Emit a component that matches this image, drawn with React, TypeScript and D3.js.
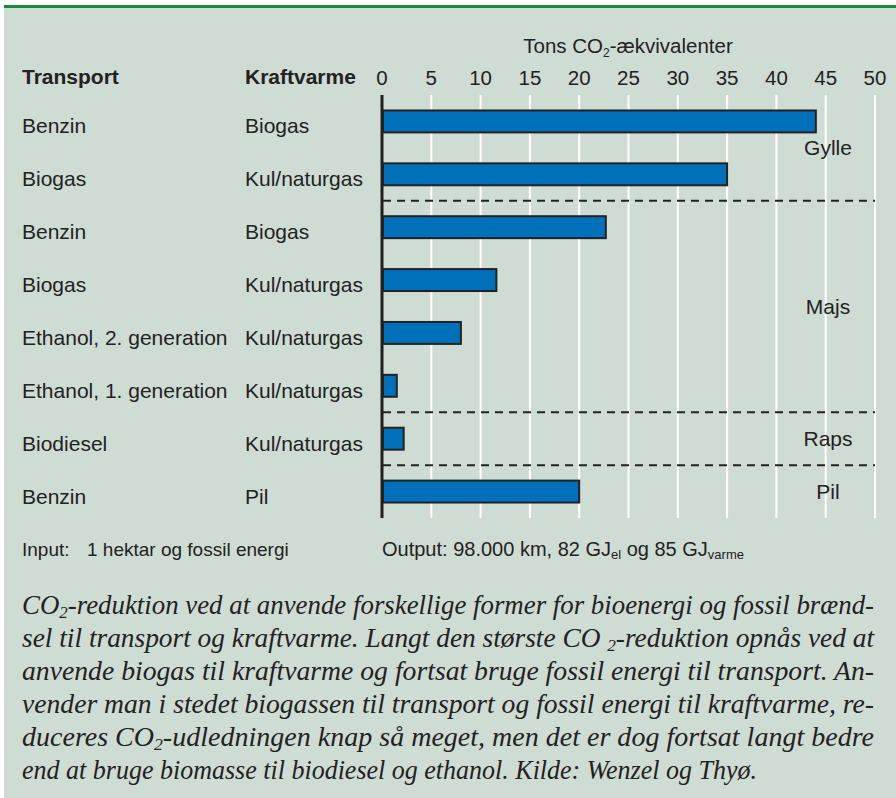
import React from 'react';
import * as d3 from 'd3';

// data
const transport = ['Benzin', 'Biogas', 'Benzin', 'Biogas', 'Ethanol, 2. generation', 'Ethanol, 1. generation', 'Biodiesel', 'Benzin'];
const kraftvarme = ['Biogas', 'Kul/naturgas', 'Biogas', 'Kul/naturgas', 'Kul/naturgas', 'Kul/naturgas', 'Kul/naturgas', 'Pil'];
const values = [44, 35, 22.7, 11.6, 8.0, 1.5, 2.2, 20];
const groups = [
  { name: 'Gylle', from: 0, to: 1 },
  { name: 'Majs', from: 2, to: 5 },
  { name: 'Raps', from: 6, to: 6 },
  { name: 'Pil', from: 7, to: 7 },
];
const xTicks = [0, 5, 10, 15, 20, 25, 30, 35, 40, 45, 50];

const captionLines = [
  [['CO'], ['2', 'sub'], ['-reduktion ved at anvende forskellige former for bioenergi og fossil brænd-']],
  [['sel til transport og kraftvarme. Langt den største CO '], ['2', 'sub'], ['-reduktion opnås ved at']],
  [['anvende biogas til kraftvarme og fortsat bruge fossil energi til transport. An-']],
  [['vender man i stedet biogassen til transport og fossil energi til kraftvarme, re-']],
  [['duceres CO'], ['2', 'sub'], ['-udledningen knap så meget, men det er dog fortsat langt bedre']],
  [['end at bruge biomasse til biodiesel og ethanol. Kilde: Wenzel og Thyø.']],
];

const W = 896, H = 798;
const sans = 'Liberation Sans, Arial, Helvetica, sans-serif';
const serif = 'Liberation Serif, Times New Roman, serif';

export default function App() {
  const x = d3.scaleLinear().domain([0, 50]).range([382, 875]);
  const y = d3.scaleBand<number>()
    .domain(d3.range(values.length))
    .range([95, 518])
    .paddingInner(0.585)
    .paddingOuter(0.2925);
  const step = y.step();
  const rowTop = (i: number) => 95 + step * i;

  return (
    <div style={{ position: 'absolute', left: 0, top: 0 }}>
      <svg width={W} height={H} style={{ display: 'block' }}>
        <rect x={4} y={5} width={W - 4} height={H - 5} fill="#cfdcd3" />
        <rect x={4} y={5} width={W - 4} height={3} fill="#178a3e" />

        {/* header */}
        <text x={22} y={84} fontFamily={sans} fontSize={21} fontWeight="bold" fill="#222">Transport</text>
        <text x={245} y={84} fontFamily={sans} fontSize={21} fontWeight="bold" fill="#222">Kraftvarme</text>
        <text x={628} y={53} fontFamily={sans} fontSize={20.5} fill="#222" textAnchor="middle">
          Tons CO<tspan fontSize={12} dy={4}>2</tspan><tspan dy={-4}>-ækvivalenter</tspan>
        </text>
        {xTicks.map(t => (
          <text key={t} x={x(t)} y={85} fontFamily={sans} fontSize={20.5} fill="#222" textAnchor="middle">{t}</text>
        ))}

        {/* grid */}
        {xTicks.filter(t => t > 0).map(t => (
          <line key={t} x1={x(t)} x2={x(t)} y1={95} y2={518} stroke="#fff" strokeWidth={2} />
        ))}

        {/* group separators */}
        {groups.slice(1).map(g => (
          <line key={g.name} x1={383} x2={875} y1={rowTop(g.from)} y2={rowTop(g.from)}
            stroke="#222" strokeWidth={2} strokeDasharray="8,6" />
        ))}

        {/* bars */}
        {values.map((v, i) => (
          <rect key={i} x={x(0) + 1} y={y(i)!} width={x(v) - x(0) - 1} height={y.bandwidth()}
            fill="#0070bb" stroke="#222" strokeWidth={2} />
        ))}
        <line x1={x(0)} x2={x(0)} y1={95} y2={518} stroke="#231f20" strokeWidth={3} />

        {/* row labels */}
        {transport.map((t, i) => (
          <text key={'t' + i} x={22} y={y(i)! + y.bandwidth() / 2 + 12} fontFamily={sans} fontSize={21} fill="#222">{t}</text>
        ))}
        {kraftvarme.map((t, i) => (
          <text key={'k' + i} x={245} y={y(i)! + y.bandwidth() / 2 + 12} fontFamily={sans} fontSize={21} fill="#222">{t}</text>
        ))}

        {/* group labels */}
        {groups.map(g => {
          const cy = (rowTop(g.from) + rowTop(g.to + 1)) / 2;
          return (
            <text key={g.name} x={828} y={cy + 7} fontFamily={sans} fontSize={21} fill="#222" textAnchor="middle">{g.name}</text>
          );
        })}

        {/* footer */}
        <text x={22} y={556} fontFamily={sans} fontSize={19} fill="#222">Input:</text>
        <text x={87} y={556} fontFamily={sans} fontSize={19} fill="#222">1 hektar og fossil energi</text>
        <text x={382} y={556} fontFamily={sans} fontSize={20} fill="#222">
          Output: 98.000 km, 82 GJ<tspan fontSize={13} dy={3}>el</tspan>
          <tspan dy={-3}> og 85 GJ</tspan><tspan fontSize={13} dy={3}>varme</tspan>
        </text>

        {/* caption */}
        {captionLines.map((parts, li) => (
          <text key={li} x={22} y={614 + li * 33} fontFamily={serif} fontStyle="italic" fontSize={27} fill="#222"
            textLength={li < 5 ? 852 : 735} lengthAdjust="spacingAndGlyphs">
            {parts.map((p, pi) => p[1] === 'sub'
              ? <tspan key={pi} fontSize={17} dy={4}>{p[0]}</tspan>
              : <tspan key={pi} dy={pi > 0 && parts[pi - 1][1] === 'sub' ? -4 : 0}>{p[0]}</tspan>)}
          </text>
        ))}
      </svg>
    </div>
  );
}
